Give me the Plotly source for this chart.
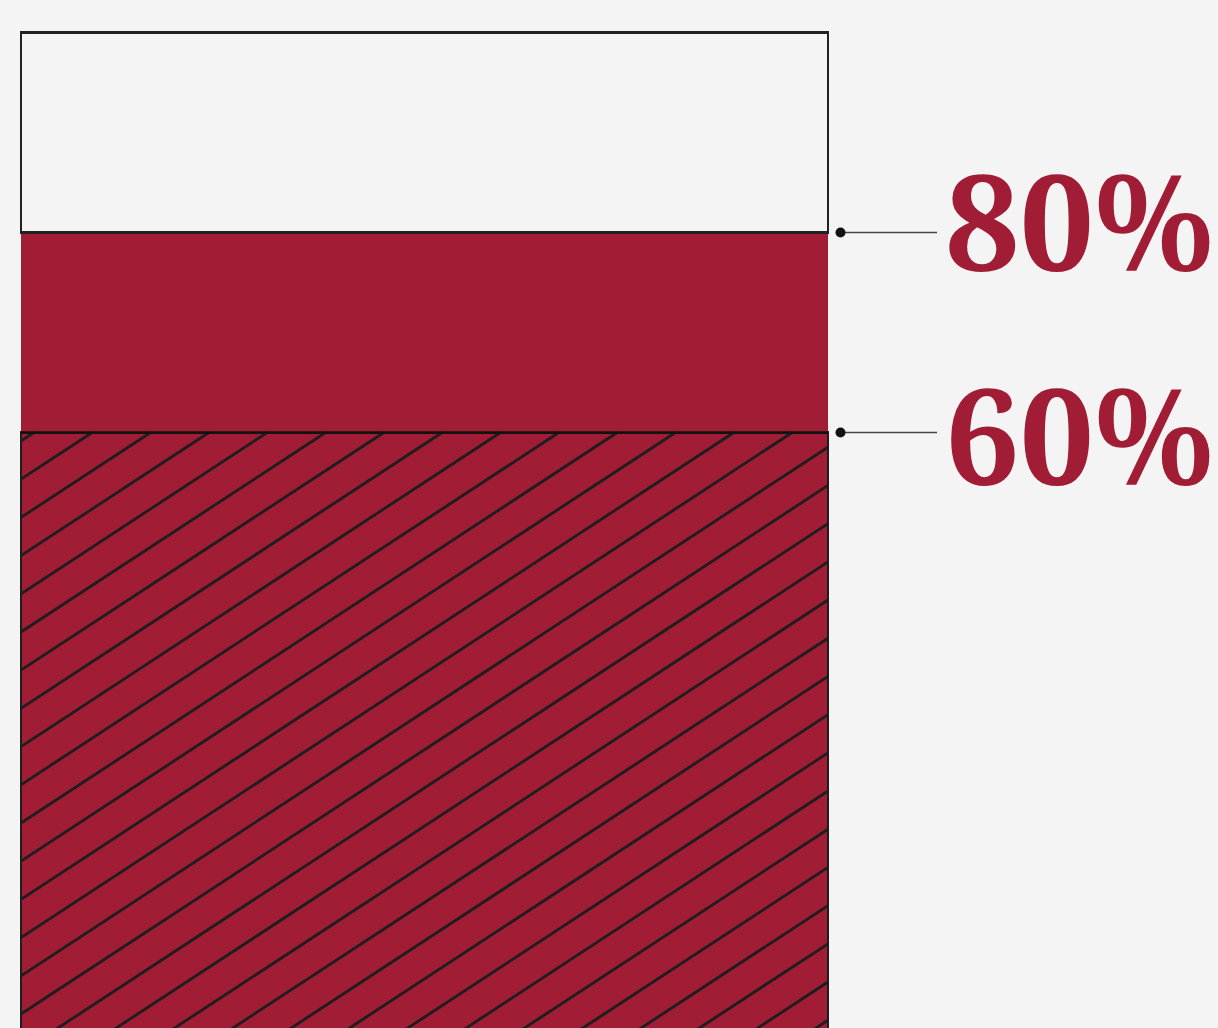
import plotly.graph_objects as go

# ---- data ----
segments = ["hatched", "solid", "empty"]
seg_values = [60, 20, 20]
label_values = [80, 60]
label_texts = ["80%", "60%"]

RED = "#A11C35"
BG = "#F4F4F4"
DARK = "#1E1E1E"

W, H = 1218, 1028
# pixel calibration for layout
bar_px_left, bar_px_right = 21, 828
px_per_unit_y = 10.0
y_top_px = 32.5  # pixel of 100
bar_w_px = bar_px_right - bar_px_left
x_range = [-0.5 - bar_px_left / bar_w_px, 0.5 + (W - bar_px_right) / bar_w_px]
total = sum(seg_values)
y_range = [total - (H - y_top_px) / px_per_unit_y, total + y_top_px / px_per_unit_y]

fig = go.Figure()
fills = [RED, RED, BG]
lines = [dict(color=DARK, width=2.5), dict(color=RED, width=0), dict(color="#222222", width=2.5)]
for name, v, f, ln in zip(segments, seg_values, fills, lines):
    fig.add_trace(go.Bar(x=[0], y=[v], width=1, name=name, marker=dict(color=f, line=ln),
                         showlegend=False, hoverinfo="skip"))

# ---- hatch lines for the bottom segment (style, derived from the bar extent) ----
hatch_top = seg_values[0]
m = 0.655 * bar_w_px / px_per_unit_y  # data slope
spacing = 38.2 / px_per_unit_y
c = hatch_top - 8.5 / px_per_unit_y
hx, hy = [], []
while c + m > 0:
    xs = max(-0.5, -c / m - 0.5)
    xe = min(0.5, (hatch_top - c) / m - 0.5)
    if xs < xe:
        hx += [xs, xe, None]
        hy += [c + m * (xs + 0.5), c + m * (xe + 0.5), None]
    c -= spacing
fig.add_trace(go.Scatter(x=hx, y=hy, mode="lines", line=dict(color=DARK, width=2.8),
                         showlegend=False, hoverinfo="skip"))
# top edge of hatched segment
fig.add_trace(go.Scatter(x=[-0.5, 0.5], y=[hatch_top, hatch_top], mode="lines",
                         line=dict(color="#111111", width=2.5), showlegend=False, hoverinfo="skip"))

# ---- leaders & labels ----
dot_x = 0.5 + (840.5 - bar_px_right) / bar_w_px
end_x = 0.5 + (937 - bar_px_right) / bar_w_px
text_x = 0.5 + (943 - bar_px_right) / bar_w_px
yshifts = [13, -1]
for v, t, ys in zip(label_values, label_texts, yshifts):
    fig.add_trace(go.Scatter(x=[dot_x, end_x], y=[v, v], mode="lines",
                             line=dict(color="#444444", width=1.7), showlegend=False, hoverinfo="skip"))
    fig.add_trace(go.Scatter(x=[dot_x], y=[v], mode="markers",
                             marker=dict(color="#111111", size=10), showlegend=False, hoverinfo="skip"))
    fig.add_annotation(x=text_x, y=v, text=f"<b>{t}</b>", showarrow=False, xanchor="left",
                       yanchor="middle", yshift=ys,
                       font=dict(family="Noto Serif, DejaVu Serif Condensed, DejaVu Serif", size=132, color=RED))

fig.update_layout(
    width=W, height=H, barmode="stack",
    paper_bgcolor=BG, plot_bgcolor=BG,
    margin=dict(l=0, r=0, t=0, b=0),
    xaxis=dict(range=x_range, visible=False, fixedrange=True),
    yaxis=dict(range=y_range, visible=False, fixedrange=True),
    showlegend=False,
)
fig.write_html("out.html", config={"displayModeBar": False},
               post_script="document.body.style.margin='0';document.body.style.background='#F4F4F4';")
